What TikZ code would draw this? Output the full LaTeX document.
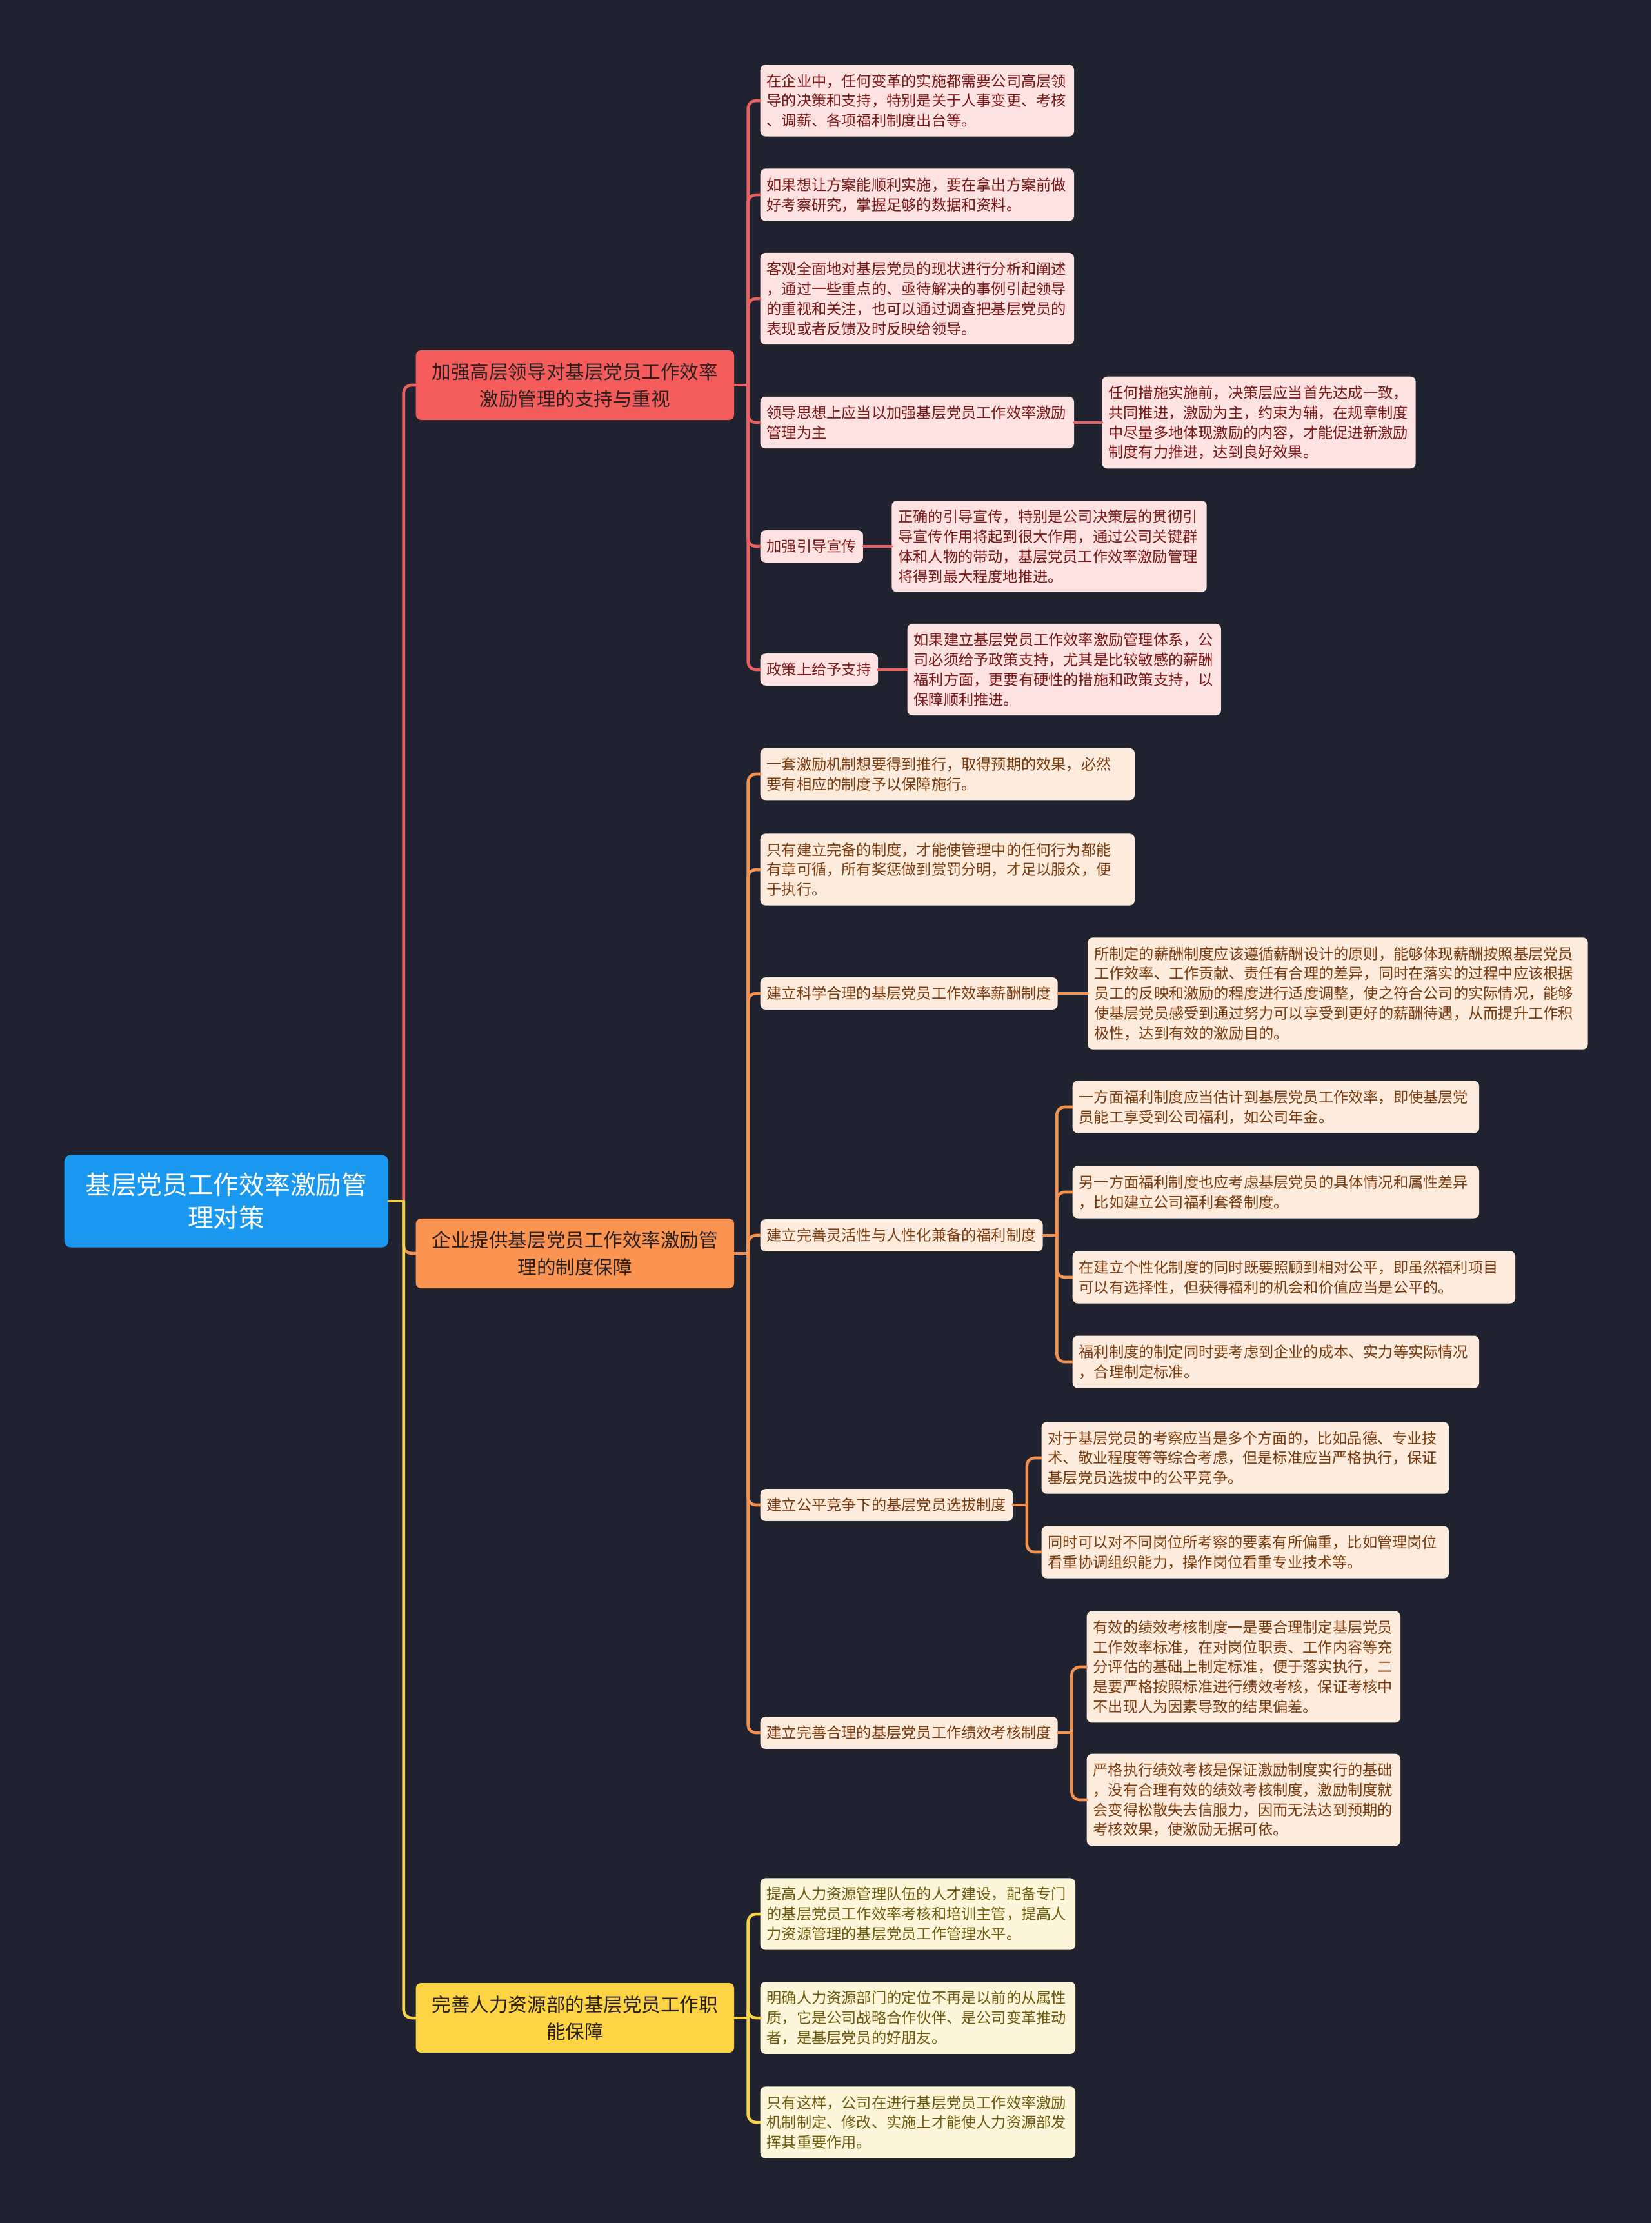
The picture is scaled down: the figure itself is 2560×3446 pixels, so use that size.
\documentclass[tikz,border=0pt]{standalone}
\usepackage{fontspec}
\setmainfont{Noto Sans CJK SC}
\usetikzlibrary{positioning}

\definecolor{bgdark}{HTML}{20232F}
\definecolor{rootblue}{HTML}{1A98F0}
\definecolor{mainR}{HTML}{F55C5C}
\definecolor{mainO}{HTML}{FB9450}
\definecolor{mainY}{HTML}{FDD444}
\definecolor{topink}{HTML}{2A2020}
\definecolor{paleR}{HTML}{FDE2E2}
\definecolor{paleO}{HTML}{FDEBDD}
\definecolor{paleY}{HTML}{FDF6DA}
\definecolor{inkR}{HTML}{7B1818}
\definecolor{inkO}{HTML}{7A3B0F}
\definecolor{inkY}{HTML}{6E5B0E}
\definecolor{wireR}{HTML}{E96060}
\definecolor{wireO}{HTML}{F39250}
\definecolor{wireY}{HTML}{F7D24B}

\begin{document}
\begin{tikzpicture}[x=0.01cm, y=-0.01cm, line cap=round, line join=round,
  rootbox/.style={fill=rootblue, text=white, rounded corners=0.1cm, align=center,
    minimum width=5.02cm, minimum height=1.43cm, anchor=west,
    font=\fontsize{11.3}{14.4}\selectfont},
  topbox/.style={text=topink, rounded corners=0.08cm, align=center,
    minimum width=4.93cm, minimum height=1.08cm, anchor=west,
    font=\fontsize{8.4}{11.9}\selectfont},
  itembox/.style={rounded corners=0.08cm, align=left, anchor=west,
    inner xsep=0.1cm, inner ysep=0.14cm, font=\fontsize{6.6}{8.76}\selectfont},
  itemR/.style={itembox, fill=paleR, text=inkR},
  itemO/.style={itembox, fill=paleO, text=inkO},
  itemY/.style={itembox, fill=paleY, text=inkY},
  noteR/.style={itemR, text width=#1}, noteR/.default=4.66cm,
  noteO/.style={itemO, text width=#1}, noteO/.default=4.66cm,
  noteY/.style={itemY, text width=#1}, noteY/.default=4.68cm,
  lineR/.style={draw=wireR, line width=1.3pt, rounded corners=0.12cm},
  lineO/.style={draw=wireO, line width=1.3pt, rounded corners=0.12cm},
  lineY/.style={draw=wireY, line width=1.3pt, rounded corners=0.12cm}]

% --- Parameters ---
\def\xroot{99}     % left edge of root
\def\xmain{644}    % left edge of main branches
\def\xleaf{1178}   % left edge of second level

% --- Background ---
\fill[bgdark] (0,0) rectangle (2560,3446);
\useasboundingbox (0,0) rectangle (2560,3446);

% --- Root ---
\node[rootbox] (root) at (\xroot,1862) {基层党员工作效率激励管\\理对策};

% --- Main branches ---
\node[topbox, fill=mainR] (lead) at (\xmain,597) {加强高层领导对基层党员工作效率\\激励管理的支持与重视};
\node[topbox, fill=mainO] (rule) at (\xmain,1943) {企业提供基层党员工作效率激励管\\理的制度保障};
\node[topbox, fill=mainY] (hr) at (\xmain,3128) {完善人力资源部的基层党员工作职\\能保障};

% --- Branch 1: leadership ---
\node[noteR] (lead1) at (\xleaf,156) {在企业中，任何变革的实施都需要公司高层领\\导的决策和支持，特别是关于人事变更、考核\\、调薪、各项福利制度出台等。};
\node[noteR] (lead2) at (\xleaf,302) {如果想让方案能顺利实施，要在拿出方案前做\\好考察研究，掌握足够的数据和资料。};
\node[noteR] (lead3) at (\xleaf,463) {客观全面地对基层党员的现状进行分析和阐述\\，通过一些重点的、亟待解决的事例引起领导\\的重视和关注，也可以通过调查把基层党员的\\表现或者反馈及时反映给领导。};
\node[noteR] (lead4) at (\xleaf,655) {领导思想上应当以加强基层党员工作效率激励\\管理为主};
\node[noteR, right=0.42cm of lead4] (lead4a) {任何措施实施前，决策层应当首先达成一致，\\共同推进，激励为主，约束为辅，在规章制度\\中尽量多地体现激励的内容，才能促进新激励\\制度有力推进，达到良好效果。};
\node[itemR] (lead5) at (\xleaf,847) {加强引导宣传};
\node[noteR=4.68cm, right=0.43cm of lead5] (lead5a) {正确的引导宣传，特别是公司决策层的贯彻引\\导宣传作用将起到很大作用，通过公司关键群\\体和人物的带动，基层党员工作效率激励管理\\将得到最大程度地推进。};
\node[itemR] (lead6) at (\xleaf,1038) {政策上给予支持};
\node[noteR, right=0.44cm of lead6] (lead6a) {如果建立基层党员工作效率激励管理体系，公\\司必须给予政策支持，尤其是比较敏感的薪酬\\福利方面，更要有硬性的措施和政策支持，以\\保障顺利推进。};

% --- Branch 2: systems ---
\node[noteO=5.60cm] (rule1) at (\xleaf,1200) {一套激励机制想要得到推行，取得预期的效果，必然\\要有相应的制度予以保障施行。};
\node[noteO=5.60cm] (rule2) at (\xleaf,1348) {只有建立完备的制度，才能使管理中的任何行为都能\\有章可循，所有奖惩做到赏罚分明，才足以服众，便\\于执行。};
\node[itemO] (rule3) at (\xleaf,1540) {建立科学合理的基层党员工作效率薪酬制度};
\node[noteO=7.55cm, right=0.45cm of rule3] (rule3a) {所制定的薪酬制度应该遵循薪酬设计的原则，能够体现薪酬按照基层党员\\工作效率、工作贡献、责任有合理的差异，同时在落实的过程中应该根据\\员工的反映和激励的程度进行适度调整，使之符合公司的实际情况，能够\\使基层党员感受到通过努力可以享受到更好的薪酬待遇，从而提升工作积\\极性，达到有效的激励目的。};
\node[itemO] (rule4) at (\xleaf,1915) {建立完善灵活性与人性化兼备的福利制度};
\node[noteO=6.10cm] (rule4a) at (1662,1716) {一方面福利制度应当估计到基层党员工作效率，即使基层党\\员能工享受到公司福利，如公司年金。};
\node[noteO=6.10cm] (rule4b) at (1662,1848) {另一方面福利制度也应考虑基层党员的具体情况和属性差异\\，比如建立公司福利套餐制度。};
\node[noteO=6.66cm] (rule4c) at (1662,1980) {在建立个性化制度的同时既要照顾到相对公平，即虽然福利项目\\可以有选择性，但获得福利的机会和价值应当是公平的。};
\node[noteO=6.10cm] (rule4d) at (1662,2111) {福利制度的制定同时要考虑到企业的成本、实力等实际情况\\，合理制定标准。};
\node[itemO] (rule5) at (\xleaf,2333) {建立公平竞争下的基层党员选拔制度};
\node[noteO=6.11cm] (rule5a) at (1614,2260) {对于基层党员的考察应当是多个方面的，比如品德、专业技\\术、敬业程度等等综合考虑，但是标准应当严格执行，保证\\基层党员选拔中的公平竞争。};
\node[noteO=6.11cm] (rule5b) at (1614,2406) {同时可以对不同岗位所考察的要素有所偏重，比如管理岗位\\看重协调组织能力，操作岗位看重专业技术等。};
\node[itemO] (rule6) at (\xleaf,2686) {建立完善合理的基层党员工作绩效考核制度};
\node[noteO] (rule6a) at (1684,2584) {有效的绩效考核制度一是要合理制定基层党员\\工作效率标准，在对岗位职责、工作内容等充\\分评估的基础上制定标准，便于落实执行，二\\是要严格按照标准进行绩效考核，保证考核中\\不出现人为因素导致的结果偏差。};
\node[noteO] (rule6b) at (1684,2790) {严格执行绩效考核是保证激励制度实行的基础\\，没有合理有效的绩效考核制度，激励制度就\\会变得松散失去信服力，因而无法达到预期的\\考核效果，使激励无据可依。};

% --- Branch 3: HR department ---
\node[noteY] (hr1) at (\xleaf,2967) {提高人力资源管理队伍的人才建设，配备专门\\的基层党员工作效率考核和培训主管，提高人\\力资源管理的基层党员工作管理水平。};
\node[noteY] (hr2) at (\xleaf,3128) {明确人力资源部门的定位不再是以前的从属性\\质，它是公司战略合作伙伴、是公司变革推动\\者，是基层党员的好朋友。};
\node[noteY] (hr3) at (\xleaf,3290) {只有这样，公司在进行基层党员工作效率激励\\机制制定、修改、实施上才能使人力资源部发\\挥其重要作用。};

% --- Connectors: root ---
\coordinate (rootT) at ([xshift=0.23cm]root.east);
\draw[lineY] (root.east) -- (rootT);
\draw[lineR] (rootT) |- (lead.west);
\draw[lineO] (rootT) |- (rule.west);
\draw[lineY] (rootT) |- (hr.west);

% --- Connectors: branch 1 ---
\coordinate (leadT) at ([xshift=0.21cm]lead.east);
\draw[lineR] (lead.east) -- (leadT);
\foreach \n in {lead1,lead2,lead3,lead4,lead5,lead6}
  \draw[lineR] (leadT) |- (\n.west);
\draw[lineR] (lead4.east) -- (lead4a.west);
\draw[lineR] (lead5.east) -- (lead5a.west);
\draw[lineR] (lead6.east) -- (lead6a.west);

% --- Connectors: branch 2 ---
\coordinate (ruleT) at ([xshift=0.21cm]rule.east);
\draw[lineO] (rule.east) -- (ruleT);
\foreach \n in {rule1,rule2,rule3,rule4,rule5,rule6}
  \draw[lineO] (ruleT) |- (\n.west);
\draw[lineO] (rule3.east) -- (rule3a.west);
\coordinate (rule4T) at ([xshift=0.21cm]rule4.east);
\draw[lineO] (rule4.east) -- (rule4T);
\foreach \n in {rule4a,rule4b,rule4c,rule4d}
  \draw[lineO] (rule4T) |- (\n.west);
\coordinate (rule5T) at ([xshift=0.21cm]rule5.east);
\draw[lineO] (rule5.east) -- (rule5T);
\foreach \n in {rule5a,rule5b}
  \draw[lineO] (rule5T) |- (\n.west);
\coordinate (rule6T) at ([xshift=0.21cm]rule6.east);
\draw[lineO] (rule6.east) -- (rule6T);
\foreach \n in {rule6a,rule6b}
  \draw[lineO] (rule6T) |- (\n.west);

% --- Connectors: branch 3 ---
\coordinate (hrT) at ([xshift=0.21cm]hr.east);
\draw[lineY] (hr.east) -- (hrT);
\foreach \n in {hr1,hr2,hr3}
  \draw[lineY] (hrT) |- (\n.west);

\end{tikzpicture}
\end{document}
